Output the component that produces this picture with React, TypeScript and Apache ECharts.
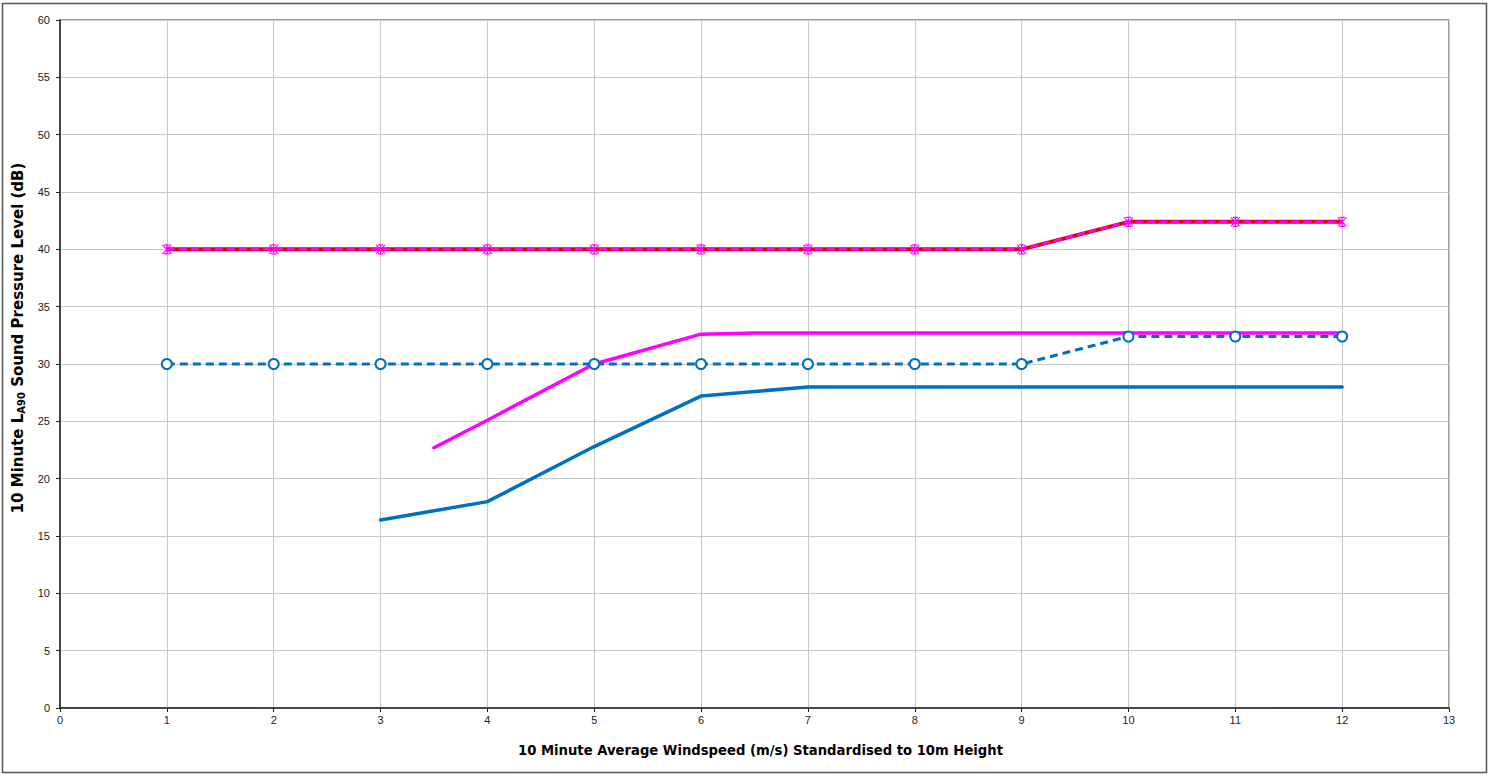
import React, { useEffect, useRef } from "react";
import * as echarts from "echarts";

const xTicks = [0, 1, 2, 3, 4, 5, 6, 7, 8, 9, 10, 11, 12, 13];
const limitX = [1, 2, 3, 4, 5, 6, 7, 8, 9, 10, 11, 12];
const nightLimit = [40, 40, 40, 40, 40, 40, 40, 40, 40, 42.4, 42.4, 42.4];
const dayLimit = [30, 30, 30, 30, 30, 30, 30, 30, 30, 32.4, 32.4, 32.4];
const nightNoiseX = [3.5, 4, 5, 6, 6.5, 7, 8, 9, 10, 11, 12];
const nightNoise = [22.7, 25.1, 30.0, 32.6, 32.7, 32.7, 32.7, 32.7, 32.7, 32.7, 32.7];
const dayNoiseX = [3, 4, 5, 6, 7, 8, 9, 10, 11, 12];
const dayNoise = [16.4, 18.0, 22.8, 27.2, 28.0, 28.0, 28.0, 28.0, 28.0, 28.0];

const zip = (xs: number[], ys: number[]) => xs.map((x, i) => [x, ys[i]]);

const starSymbol = "path://M0,0L10,10M10,0L0,10M2,0L8,0M2,10L8,10M5,0L5,10";
const titleFont = "DejaVu Sans, Verdana, sans-serif";

export default function App() {
  const ref = useRef<HTMLDivElement>(null);
  useEffect(() => {
    if (!ref.current) return;
    const chart = echarts.init(ref.current, null, { renderer: "svg" });
    chart.setOption({
      animation: false,
      backgroundColor: "#ffffff",
      textStyle: { fontFamily: "Liberation Sans, Arial, sans-serif" },
      grid: {
        left: 60,
        right: 45,
        top: 20,
        bottom: 67,
        show: true,
        borderColor: "#808080",
        borderWidth: 1.5,
        containLabel: false,
        outerBoundsMode: "none",
      },
      graphic: [
        {
          type: "rect",
          shape: { x: 2.5, y: 3.5, width: 1484, height: 769 },
          style: { fill: "none", stroke: "#555555", lineWidth: 1.5 },
          silent: true,
          z: -1,
        },
      ],
      xAxis: {
        type: "value",
        min: 0,
        max: 13,
        interval: 1,
        name: "10 Minute Average Windspeed (m/s) Standardised to 10m Height",
        nameLocation: "middle",
        nameGap: 36,
        nameTextStyle: {
          fontFamily: titleFont,
          fontWeight: "bold",
          fontSize: 13.2,
          color: "#000",
          padding: [0, 0, 0, 12],
        },
        axisLine: { onZero: false, lineStyle: { color: "#222", width: 1.5 } },
        axisTick: { show: true, length: 4, lineStyle: { color: "#222" } },
        axisLabel: { color: "#222", fontSize: 11, margin: 6 },
        splitLine: { show: true, lineStyle: { color: "#c8c8c8", width: 1 } },
      },
      yAxis: {
        type: "value",
        min: 0,
        max: 60,
        interval: 5,
        name: "{b|10 Minute L}{s|A90}{b| Sound Pressure Level (dB)}",
        nameLocation: "middle",
        nameGap: 31,
        nameRotate: 90,
        nameTextStyle: {
          padding: [0, 0, 0, 52],
          rich: {
            b: {
              fontFamily: titleFont,
              fontWeight: "bold",
              fontSize: 15,
              color: "#000",
            },
            s: {
              fontFamily: titleFont,
              fontWeight: "bold",
              fontSize: 10,
              color: "#000",
              padding: [8, 0, 0, 0],
            },
          },
        },
        axisLine: { show: true, onZero: false, lineStyle: { color: "#222", width: 1.5 } },
        axisTick: { show: true, length: 4, lineStyle: { color: "#222" } },
        axisLabel: { color: "#222", fontSize: 11, margin: 10 },
        splitLine: { show: true, lineStyle: { color: "#c8c8c8", width: 1 } },
      },
      series: [
        {
          name: "Night-time Limit (base)",
          type: "line",
          data: zip(limitX, nightLimit),
          symbol: "none",
          lineStyle: { color: "#e00000", width: 4 },
          z: 3,
        },
        {
          name: "Night-time Limit",
          type: "line",
          data: zip(limitX, nightLimit),
          symbol: starSymbol,
          symbolSize: 9,
          itemStyle: { color: "none", borderColor: "#ff00ff", borderWidth: 1.2 },
          lineStyle: { color: "#ff00ff", width: 2.5, type: [8, 4] },
          z: 4,
        },
        {
          name: "Daytime Limit",
          type: "line",
          data: zip(limitX, dayLimit),
          symbol: "circle",
          symbolSize: 10,
          itemStyle: { color: "#ffffff", borderColor: "#0070c0", borderWidth: 2 },
          lineStyle: { color: "#0070c0", width: 3, type: [8, 5] },
          z: 5,
        },
        {
          name: "Night-time Noise",
          type: "line",
          data: zip(nightNoiseX, nightNoise),
          symbol: "none",
          lineStyle: { color: "#ff00ff", width: 3.5, cap: "round" },
          z: 4,
        },
        {
          name: "Daytime Noise",
          type: "line",
          data: zip(dayNoiseX, dayNoise),
          symbol: "none",
          lineStyle: { color: "#0070c0", width: 3.5, cap: "round" },
          z: 4,
        },
      ],
    });
    return () => chart.dispose();
  }, []);
  return (
    <div
      ref={ref}
      style={{ position: "fixed", left: 0, top: 0, width: 1494, height: 775 }}
    />
  );
}
